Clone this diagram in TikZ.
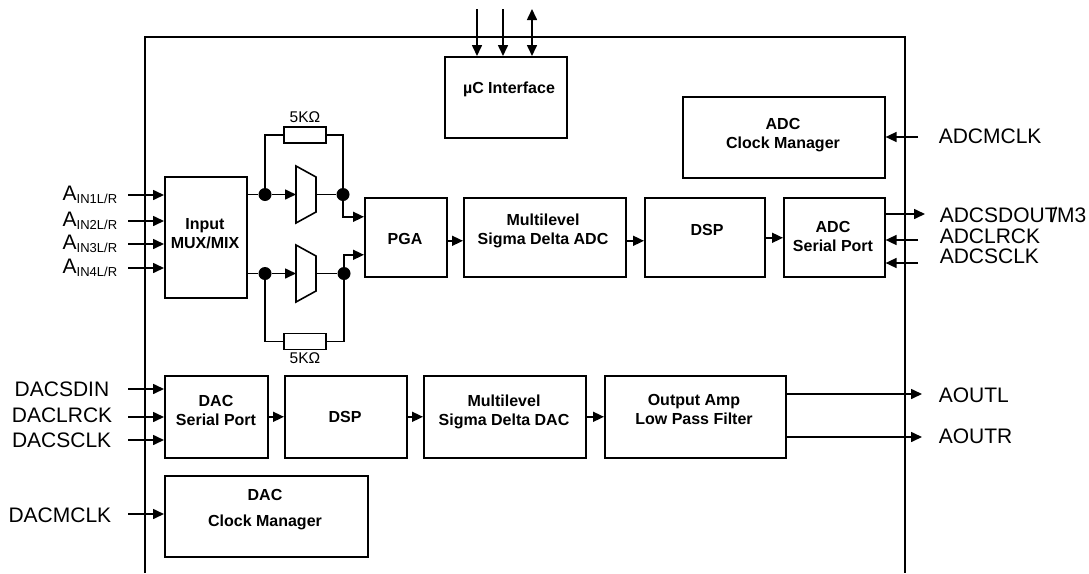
\documentclass[tikz,border=0pt]{standalone}
\usepackage{fontspec}
\setmainfont{Liberation Sans}
\usetikzlibrary{arrows.meta}
\begin{document}
\begin{tikzpicture}[x=1pt,y=-1pt, line width=1.6pt,
  box/.style={draw, line width=1.6pt, inner sep=0pt, anchor=north west},
  btxt/.style={font=\fontsize{16}{19}\selectfont\bfseries, align=center, inner sep=0pt},
  lbl/.style={font=\fontsize{21}{21}\selectfont, inner sep=0pt},
  arr/.style={-{Triangle[length=11pt,width=10pt]}},
  darr/.style={{Triangle[length=11pt,width=10pt]}-{Triangle[length=11pt,width=10pt]}},
  dot/.style={circle, fill, inner sep=0pt, minimum size=13pt},
  res/.style={draw, fill=white, line width=1.6pt, inner sep=0pt, minimum width=42pt, minimum height=16pt},
  rtxt/.style={font=\fontsize{15.5}{15.5}\selectfont, inner sep=0pt}]
\useasboundingbox (0,0) rectangle (1089,573);
% frame
\draw (145,573) -- (145,37) -- (905,37) -- (905,573);
% boxes
\node[box, minimum width=122pt, minimum height=81pt] (uc) at (444,56) {};
\node[box, minimum width=202pt, minimum height=81pt] (adcclk) at (682,96) {};
\node[box, minimum width=82pt, minimum height=121pt] (mux) at (164,176) {};
\node[box, minimum width=82pt, minimum height=79pt] (pga) at (364,197) {};
\node[box, minimum width=162pt, minimum height=79pt] (adc) at (463,197) {};
\node[box, minimum width=120pt, minimum height=79pt] (dspa) at (644,197) {};
\node[box, minimum width=101pt, minimum height=79pt] (adcsp) at (783,197) {};
\node[box, minimum width=103pt, minimum height=82pt] (dacsp) at (164,375) {};
\node[box, minimum width=122pt, minimum height=82pt] (dspd) at (284,375) {};
\node[box, minimum width=162pt, minimum height=82pt] (dac) at (423,375) {};
\node[box, minimum width=181pt, minimum height=82pt] (outamp) at (604,375) {};
\node[box, minimum width=203pt, minimum height=81pt] (dacclk) at (164,475) {};
% box texts
\node[btxt] (uct) at (509,89) {µC Interface};
\node[btxt] (adcclkt) at (783,135) {ADC\\Clock Manager};
\node[btxt] (muxt) at (205,234) {Input\\MUX/MIX};
\node[btxt] (pgat) at (405,239) {PGA};
\node[btxt] (adct) at (543,231) {Multilevel\\Sigma Delta ADC};
\node[btxt] (dspat) at (707,230) {DSP};
\node[btxt] (adcspt) at (833,236) {ADC\\Serial Port};
\node[btxt] (dacspt) at (216,410) {DAC\\Serial Port};
\node[btxt] (dspdt) at (345,417) {DSP};
\node[btxt] (dact) at (504,412) {Multilevel\\Sigma Delta DAC};
\node[btxt] (outampt) at (694,409) {Output Amp\\Low Pass Filter};
\node[btxt] (dacclkt) at (265,510) {DAC\\[7pt]Clock Manager};
% uC arrows
\coordinate (uc1) at (477,9);
\coordinate (uc2) at (503,9);
\coordinate (uc3) at (532,9);
\draw[arr] (uc1) -- (uc1 |- uc.north);
\draw[arr] (uc2) -- (uc2 |- uc.north);
\draw[darr] (uc3) -- (uc3 |- uc.north);
% ADC clock
\coordinate (adcm) at (918,137);
\draw[arr] (adcm) -- (adcm -| adcclk.east);
\node[lbl, anchor=base west] (adcml) at (938,143) {ADCMCLK};
% analog inputs
\foreach \i/\y in {1/195,2/221,3/244,4/268}{
  \coordinate (ain\i) at (128,\y);
  \draw[arr] (ain\i) -- (ain\i -| mux.west);
  \node[lbl, anchor=base east] (ainl\i) at (118,\y+5.5) {A\raisebox{-3pt}{\fontsize{13}{13}\selectfont IN\i L/R}};
}
% amplifier stage
\node[dot] (d1) at (265,194.5) {};
\node[dot] (d2) at (343,194.5) {};
\node[dot] (d3) at (265,273.5) {};
\node[dot] (d4) at (344,273.5) {};
\draw (296,166) -- (316,177) -- (316,212) -- (296,223) -- cycle;
\draw (296,245) -- (316,256) -- (316,291) -- (296,302) -- cycle;
\coordinate (a1in) at (296,194.5);
\coordinate (a1out) at (316,194.5);
\coordinate (a2in) at (296,273.5);
\coordinate (a2out) at (316,273.5);
\draw (mux.east |- d1) -- (d1);
\draw (mux.east |- d3) -- (d3);
\draw[arr] (d1) -- (a1in);
\draw[arr] (d3) -- (a2in);
\draw (a1out) -- (d2);
\draw (a2out) -- (d4);
\node[res] (r1) at (305,135) {};
\node[res] (r2) at (305,341.5) {};
\draw (d1.center) |- (r1.west);
\draw (r1.east) -| (d2.center);
\draw (d3.center) |- (r2.west);
\draw (r2.east) -| (d4.center);
\node[rtxt] (r1l) at (305,117) {5KΩ};
\node[rtxt] (r2l) at (305,358) {5KΩ};
\draw[arr] (d2.center) |- ([yshift=20.5pt]pga.west);
\draw[arr] (d4.center) |- ([yshift=-17.5pt]pga.west);
% ADC chain
\draw[arr] ([yshift=-3.5pt]pga.east) -- ([yshift=-3.5pt]adc.west);
\draw[arr] ([yshift=-3.5pt]adc.east) -- ([yshift=-3.5pt]dspa.west);
\draw[arr] ([yshift=-0.5pt]dspa.east) -- ([yshift=-0.5pt]adcsp.west);
% ADC serial port signals
\coordinate (sdout) at (925,214);
\coordinate (lrck) at (918,240);
\coordinate (sclk) at (918,263);
\draw[arr] (sdout -| adcsp.east) -- (sdout);
\draw[arr] (lrck) -- (lrck -| adcsp.east);
\draw[arr] (sclk) -- (sclk -| adcsp.east);
\node[lbl, anchor=base west] (sdoutl) at (939,222) {ADCSDOUT\kern-0.3em/M3};
\node[lbl, anchor=base west] (lrckl) at (939,243) {ADCLRCK};
\node[lbl, anchor=base west] (sclkl) at (939,263) {ADCSCLK};
% DAC inputs
\coordinate (dsdin) at (128,389);
\coordinate (dlrck) at (128,417);
\coordinate (dsclk) at (128,440);
\coordinate (dmclk) at (128,514);
\draw[arr] (dsdin) -- (dsdin -| dacsp.west);
\draw[arr] (dlrck) -- (dlrck -| dacsp.west);
\draw[arr] (dsclk) -- (dsclk -| dacsp.west);
\draw[arr] (dmclk) -- (dmclk -| dacclk.west);
\node[lbl, anchor=base east] (dsdinl) at (110,396) {DACSDIN};
\node[lbl, anchor=base east] (dlrckl) at (113,422) {DACLRCK};
\node[lbl, anchor=base east] (dsclkl) at (112,447) {DACSCLK};
\node[lbl, anchor=base east] (dmclkl) at (112,522) {DACMCLK};
% DAC chain
\draw[arr] (dacsp.east) -- (dspd.west);
\draw[arr] (dspd.east) -- (dac.west);
\draw[arr] (dac.east) -- (outamp.west);
% outputs
\coordinate (aoutl) at (922,394);
\coordinate (aoutr) at (922,437);
\draw[arr] (aoutl -| outamp.east) -- (aoutl);
\draw[arr] (aoutr -| outamp.east) -- (aoutr);
\node[lbl, anchor=base west] (aoutll) at (938,402) {AOUTL};
\node[lbl, anchor=base west] (aoutrl) at (938,443) {AOUTR};
\end{tikzpicture}
\end{document}
